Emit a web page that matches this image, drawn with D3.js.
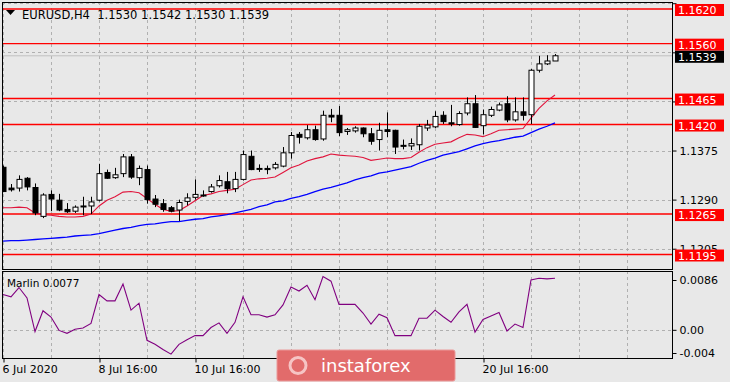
<!DOCTYPE html>
<html>
<head>
<meta charset="utf-8">
<script src="https://cdn.jsdelivr.net/npm/d3@7"></script>
<style>
body{margin:0;background:#e8e8e8;}
svg{display:block;}
text{font-family:"DejaVu Sans",sans-serif;}
</style>
</head>
<body>
<svg id="chart" width="730" height="382"></svg>
<script>
// EURUSD H4 candles, 6 Jul 16:00 .. 21 Jul
const openP = [1.1346,1.1310,1.1310,1.1327,1.1311,1.1261,1.1299,1.1289,1.1273,1.1270,
1.1279,1.1279,1.1289,1.1337,1.1328,1.1335,1.1364,1.1328,1.1342,1.1291,
1.1283,1.1276,1.1272,1.1287,1.1294,1.1297,1.1304,1.1314,1.1321,1.1309,
1.1325,1.1365,1.1343,1.1344,1.1345,1.1348,1.1371,1.1403,1.1397,1.1411,
1.1395,1.1436,1.1436,1.1408,1.1409,1.1414,1.1404,1.1394,1.1411,1.1410,
1.1384,1.1383,1.1385,1.1414,1.1416,1.1436,1.1423,1.1420,1.1440,1.1456,
1.1418,1.1436,1.1445,1.1456,1.1428,1.1442,1.1437,1.1514,1.1525,1.1530];
const highP = [1.1349,1.1317,1.1332,1.1329,1.1318,1.1301,1.1306,1.1300,1.1284,1.1280,
1.1295,1.1295,1.1352,1.1342,1.1345,1.1369,1.1369,1.1349,1.1349,1.1298,
1.1291,1.1279,1.1290,1.1301,1.1325,1.1306,1.1317,1.1332,1.1338,1.1338,
1.1375,1.1375,1.1351,1.1349,1.1355,1.1381,1.1407,1.1407,1.1419,1.1418,
1.1444,1.1447,1.1452,1.1414,1.1417,1.1415,1.1414,1.1423,1.1441,1.1411,
1.1394,1.1396,1.1421,1.1428,1.1443,1.1443,1.1454,1.1443,1.1467,1.1471,
1.1446,1.1451,1.1458,1.1469,1.1467,1.1467,1.1516,1.1539,1.1540,1.1542];
const lowP = [1.1303,1.1304,1.1304,1.1306,1.1263,1.1258,1.1270,1.1270,1.1267,1.1267,
1.1263,1.1265,1.1287,1.1326,1.1326,1.1329,1.1326,1.1315,1.1283,1.1277,
1.1269,1.1268,1.1253,1.1280,1.1290,1.1295,1.1302,1.1311,1.1301,1.1303,
1.1323,1.1341,1.1338,1.1334,1.1342,1.1346,1.1361,1.1387,1.1394,1.1392,
1.1392,1.1424,1.1400,1.1402,1.1406,1.1398,1.1385,1.1375,1.1398,1.1369,
1.1377,1.1376,1.1375,1.1409,1.1414,1.1421,1.1417,1.1418,1.1436,1.1414,
1.1403,1.1433,1.1443,1.1424,1.1425,1.1427,1.1421,1.1510,1.1523,1.1530];
const closeP = [1.1304,1.1307,1.1325,1.1312,1.1267,1.1298,1.1291,1.1272,1.1269,1.1277,
1.1278,1.1286,1.1335,1.1327,1.1333,1.1364,1.1329,1.1344,1.1290,1.1282,
1.1273,1.1270,1.1285,1.1293,1.1299,1.1298,1.1312,1.1323,1.1309,1.1325,
1.1368,1.1342,1.1344,1.1342,1.1351,1.1371,1.1401,1.1398,1.1411,1.1394,
1.1436,1.1433,1.1406,1.1411,1.1414,1.1404,1.1391,1.1410,1.1408,1.1381,
1.1383,1.1387,1.1417,1.1419,1.1434,1.1425,1.1421,1.1439,1.1456,1.1415,
1.1437,1.1446,1.1454,1.1428,1.1442,1.1436,1.1514,1.1525,1.1530,1.1539];

const maFast = [1.1276,1.1276,1.1277,1.1276,1.1267,1.1264,1.1263,1.1261,1.1260,1.1260,
1.1261,1.1265,1.1279,1.1289,1.1295,1.1303,1.1304,1.1302,1.1292,1.1282,
1.1273,1.1270,1.1271,1.1279,1.1288,1.1297,1.1300,1.1304,1.1306,1.1308,
1.1316,1.1324,1.1326,1.1327,1.1329,1.1337,1.1345,1.1350,1.1357,1.1361,
1.1364,1.1369,1.1367,1.1366,1.1365,1.1363,1.1358,1.1360,1.1362,1.1361,
1.1361,1.1363,1.1372,1.1380,1.1386,1.1388,1.1390,1.1397,1.1403,1.1402,
1.1399,1.1404,1.1410,1.1411,1.1412,1.1413,1.1431,1.1448,1.1461,1.1471];
const maSlow = [1.1218,1.1219,1.1219,1.1220,1.1221,1.1222,1.1223,1.1224,1.1225,1.1227,
1.1228,1.1229,1.1231,1.1234,1.1237,1.1240,1.1242,1.1245,1.1247,1.1248,
1.1250,1.1252,1.1252,1.1254,1.1256,1.1257,1.1260,1.1262,1.1264,1.1267,
1.1270,1.1273,1.1278,1.1281,1.1286,1.1288,1.1292,1.1295,1.1299,1.1304,
1.1308,1.1311,1.1315,1.1319,1.1324,1.1328,1.1331,1.1336,1.1338,1.1341,
1.1344,1.1347,1.1353,1.1358,1.1362,1.1367,1.1370,1.1373,1.1378,1.1383,
1.1387,1.1390,1.1392,1.1395,1.1398,1.1400,1.1406,1.1412,1.1417,1.1423];

const marlin = [0.0061,0.0057,0.0073,0.0055,-0.0003,0.0033,0.0022,-0.0001,-0.0006,0.0001,
0.0003,0.0011,0.0061,0.0050,0.0050,0.0079,0.0034,0.0046,-0.0018,-0.0025,
-0.0034,-0.0042,-0.0025,-0.0017,-0.0010,-0.0010,0.0004,0.0012,-0.0006,0.0013,
0.0057,0.0026,0.0026,0.0022,0.0026,0.0043,0.0074,0.0067,0.0077,0.0052,
0.0092,0.0084,0.0044,0.0044,0.0044,0.0029,0.0010,0.0027,0.0021,-0.0010,
-0.0010,-0.0010,0.0020,0.0020,0.0034,0.0023,0.0013,0.0031,0.0044,-0.0004,
0.0018,0.0024,0.0030,-0.0002,0.0010,0.0004,0.0086,0.0089,0.0088,0.0089];

const levels = [1.1620,1.1560,1.1465,1.1420,1.1265,1.1195];
const gridPrices = [1.1205,1.1290,1.1375,1.1460,1.1545,1.1630];
const oscTicks = [0.0086,0,-0.004];
const oscTickText = ["0.0086","0.00","-0.004"];
const timeTicks = [0,12,24,60];
const timeText = ["6 Jul 2020","8 Jul 16:00","10 Jul 16:00","20 Jul 16:00"];
const header = "EURUSD,H4  1.1530 1.1542 1.1530 1.1539";
const oscName = "Marlin 0.0077";
const bid = closeP[closeP.length-1];

const svg = d3.select("#chart");
const left = 2, right = 672, mainTop = 2, mainBottom = 269, oscTop = 271, oscBottom = 358;

const x = d3.scaleLinear().domain([0,1]).range([3,11]);
const y = d3.scaleLinear().domain([1.1195,1.1620]).range([254.5,9]);
const yOsc = d3.scaleLinear().domain([-0.004,0.0086]).range([353,280]);
const gridIdx = d3.range(0,84,6);

svg.append("rect").attr("width",730).attr("height",382).attr("fill","#e8e8e8");

let defs = svg.append("defs");
defs.append("clipPath").attr("id","clipMain").append("rect")
  .attr("x",left).attr("y",mainTop).attr("width",right-left).attr("height",mainBottom-mainTop);
defs.append("clipPath").attr("id","clipOsc").append("rect")
  .attr("x",left).attr("y",oscTop).attr("width",right-left).attr("height",oscBottom-oscTop);

// main panel
let main = svg.append("g").attr("clip-path","url(#clipMain)");
main.selectAll("line.hgrid").data(gridPrices).join("line").attr("class","hgrid")
  .attr("x1",left).attr("x2",right).attr("y1",d=>Math.round(y(d))+0.5).attr("y2",d=>Math.round(y(d))+0.5)
  .attr("stroke","#b0b0b0").attr("stroke-dasharray","3,3");
main.selectAll("line.vgrid").data(gridIdx).join("line").attr("class","vgrid")
  .attr("x1",d=>x(d)+0.5).attr("x2",d=>x(d)+0.5).attr("y1",mainTop).attr("y2",mainBottom)
  .attr("stroke","#b0b0b0").attr("stroke-dasharray","3,3");

main.append("line").attr("x1",left).attr("x2",right).attr("y1",y(bid)).attr("y2",y(bid))
  .attr("stroke","#c0c0c0").attr("stroke-width",1);

main.selectAll("line.level").data(levels).join("line").attr("class","level")
  .attr("x1",left).attr("x2",right).attr("y1",d=>y(d)).attr("y2",d=>y(d))
  .attr("stroke","#ff0000").attr("stroke-width",1.4);

let lineGen = arr => d3.line().x((d,i)=>x(i)).y(d=>y(d))(arr);
main.append("path").attr("d",lineGen(maSlow)).attr("fill","none").attr("stroke","#0000ff").attr("stroke-width",1.3);
main.append("path").attr("d",lineGen(maFast)).attr("fill","none").attr("stroke","#e0143c").attr("stroke-width",1.1);

let candles = main.selectAll("g.candle").data(d3.range(openP.length)).join("g").attr("class","candle");
candles.append("line")
  .attr("x1",i=>x(i)+0.5).attr("x2",i=>x(i)+0.5).attr("y1",i=>y(highP[i])).attr("y2",i=>y(lowP[i]))
  .attr("stroke","#000").attr("stroke-width",1);
candles.append("rect")
  .attr("x",i=>x(i)-2).attr("width",5)
  .attr("y",i=>y(Math.max(openP[i],closeP[i])))
  .attr("height",i=>Math.max(1,Math.abs(y(openP[i])-y(closeP[i]))))
  .attr("fill",i=>closeP[i]>=openP[i]?"#ffffff":"#000000")
  .attr("stroke","#000").attr("stroke-width",1);

// oscillator panel
let osc = svg.append("g").attr("clip-path","url(#clipOsc)");
osc.append("line").attr("x1",left).attr("x2",right).attr("y1",Math.round(yOsc(0))+0.5).attr("y2",Math.round(yOsc(0))+0.5)
  .attr("stroke","#b0b0b0").attr("stroke-dasharray","3,3");
osc.selectAll("line.vgrid").data(gridIdx).join("line").attr("class","vgrid")
  .attr("x1",d=>x(d)+0.5).attr("x2",d=>x(d)+0.5).attr("y1",oscTop).attr("y2",oscBottom)
  .attr("stroke","#b0b0b0").attr("stroke-dasharray","3,3");
osc.append("path").attr("d",d3.line().x((d,i)=>x(i)).y(d=>yOsc(d))(marlin))
  .attr("fill","none").attr("stroke","#800080").attr("stroke-width",1.1);

// borders
svg.append("rect").attr("x",left+0.5).attr("y",mainTop+0.5).attr("width",right-left).attr("height",mainBottom-mainTop)
  .attr("fill","none").attr("stroke","#000");
svg.append("rect").attr("x",left+0.5).attr("y",oscTop+0.5).attr("width",right-left).attr("height",oscBottom-oscTop)
  .attr("fill","none").attr("stroke","#000");

// price axis; grid labels hidden under a price tag are dropped
let tags = levels.map(v=>({v:v,bg:"#ff0000"})).concat([{v:bid,bg:"#000000"}]);
let covered = d => y(d)<8 || tags.some(t=>Math.abs(y(t.v)-y(d))<5.5);
let priceAxis = svg.append("g").attr("transform","translate("+(right+0.5)+",0)")
  .call(d3.axisRight(y).tickValues(gridPrices).tickSize(4).tickPadding(3).tickFormat(d3.format(".4f")));
priceAxis.select(".domain").remove();
priceAxis.selectAll(".tick text").attr("font-size",11).attr("font-family","DejaVu Sans").attr("fill","#000")
  .filter(covered).remove();

let tag = svg.append("g").selectAll("g").data(tags).join("g").attr("transform",d=>"translate(675,"+y(d.v)+")");
tag.append("rect").attr("x",0).attr("y",-5).attr("width",49).attr("height",12).attr("fill",d=>d.bg);
tag.append("text").attr("x",3).attr("y",5).attr("font-size",11).attr("fill","#fff").text(d=>d3.format(".4f")(d.v));

let oscAxis = svg.append("g").attr("transform","translate("+(right+0.5)+",0)")
  .call(d3.axisRight(yOsc).tickValues(oscTicks).tickSize(4).tickPadding(3).tickFormat((d,i)=>oscTickText[i]));
oscAxis.select(".domain").remove();
oscAxis.selectAll("text").attr("font-size",11).attr("font-family","DejaVu Sans").attr("fill","#000");

// time axis
let timeAxis = svg.append("g").attr("transform","translate(0,"+(oscBottom+0.5)+")")
  .call(d3.axisBottom(x).tickValues(timeTicks).tickSize(4).tickPadding(3).tickFormat((d,i)=>timeText[i]));
timeAxis.select(".domain").remove();
timeAxis.selectAll(".tick line").attr("transform","translate(0.5,0)");
timeAxis.selectAll("text").attr("font-size",11).attr("font-family","DejaVu Sans").attr("fill","#000")
  .attr("text-anchor","start").attr("dx",-1);

// header and indicator name
svg.append("path").attr("d","M6,10 L15,10 L10.5,15 Z").attr("fill","#000");
svg.append("text").attr("x",22).attr("y",19).attr("font-size",11.5).attr("fill","#000").attr("xml:space","preserve")
  .style("white-space","pre").text(header);
svg.append("text").attr("x",7).attr("y",287).attr("font-size",10.5).attr("fill","#000").text(oscName);

// watermark
let wm = svg.append("g");
wm.append("rect").attr("x",277).attr("y",350).attr("width",178).attr("height",31).attr("rx",2)
  .attr("fill","#e26b6b").attr("stroke","#eb9a9a");
wm.append("circle").attr("cx",298).attr("cy",365.5).attr("r",8).attr("fill","none")
  .attr("stroke","#f6c4c4").attr("stroke-width",3);
wm.append("text").attr("x",321).attr("y",372).attr("font-size",18).attr("font-family","Open Sans")
  .attr("fill","#fff").text("instaforex");
</script>
</body>
</html>
